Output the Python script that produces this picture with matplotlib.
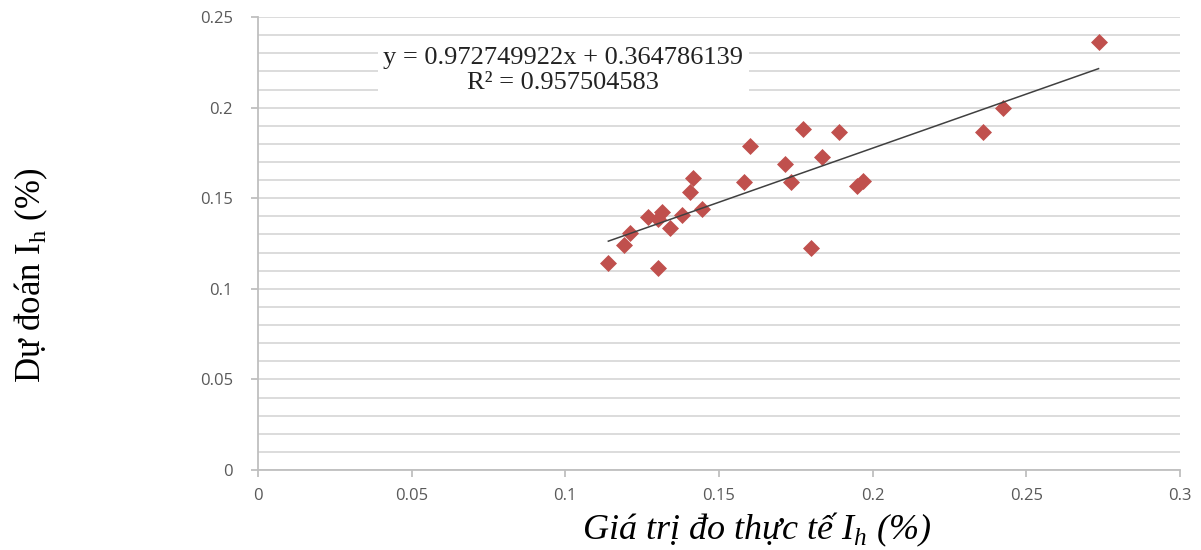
import numpy as np
import matplotlib
matplotlib.use("Agg")
import matplotlib.pyplot as plt

# measured vs predicted I_h (%)
measured = [0.114, 0.119, 0.121, 0.127, 0.130, 0.1315, 0.130, 0.134, 0.138, 0.1445,
            0.1405, 0.1415, 0.158, 0.160, 0.1715, 0.1735, 0.1775, 0.180, 0.1835, 0.189,
            0.195, 0.197, 0.236, 0.2425, 0.2735]
predicted = [0.114, 0.124, 0.131, 0.1395, 0.1385, 0.1425, 0.1115, 0.1335, 0.141, 0.144,
             0.1535, 0.161, 0.159, 0.179, 0.169, 0.159, 0.188, 0.1225, 0.1725, 0.1865,
             0.157, 0.1595, 0.1865, 0.200, 0.236]
x_ticks = [0, 0.05, 0.1, 0.15, 0.2, 0.25, 0.3]
x_labels = ["0", "0.05", "0.1", "0.15", "0.2", "0.25", "0.3"]
y_ticks = [0, 0.05, 0.1, 0.15, 0.2, 0.25]
y_labels = ["0", "0.05", "0.1", "0.15", "0.2", "0.25"]
eq_text = "y = 0.972749922x + 0.364786139\nR² = 0.957504583"

fig = plt.figure(figsize=(12.01, 5.5), dpi=100)
ax = fig.add_axes([0.2148, 0.1455, 0.7677, 0.8235])

ax.set_xlim(0, 0.3)
ax.set_ylim(0, 0.25)
ax.set_xticks(x_ticks, x_labels, family="Open Sans")
ax.set_yticks(y_ticks, y_labels, family="Open Sans")
ax.set_yticks(np.arange(0, 0.2501, 0.01), minor=True)
ax.grid(True, axis="y", which="both", color="#d9d9d9", linewidth=1.3, zorder=0)
ax.set_axisbelow(True)

for side in ("top", "right"):
    ax.spines[side].set_visible(False)
for side in ("left", "bottom"):
    ax.spines[side].set_color("#bfbfbf")
    ax.spines[side].set_linewidth(1.3)

ax.tick_params(which="major", length=5, color="#bfbfbf", width=1.3,
               labelsize=12, labelcolor="#595959")
ax.tick_params(axis="x", pad=8)
ax.tick_params(axis="y", pad=13)
ax.tick_params(which="minor", length=0)

ax.scatter(measured, predicted, marker="D", s=75, color="#c0504d", zorder=3, linewidths=0)

# linear trendline over the data range
coef = np.polyfit(measured, predicted, 1)
xs = np.array([min(measured), max(measured)])
ax.plot(xs, np.polyval(coef, xs), color="#404040", linewidth=1.1, zorder=4)

ax.text(0.0993, 0.2205, eq_text, ha="center", va="center", linespacing=1.2,
        family="Liberation Serif", fontsize=19, color="#222222",
        bbox=dict(facecolor="white", edgecolor="none", pad=4), zorder=5)

fig.text(0.026, 0.5, "Dự đoán I$_\\mathregular{h}$ (%)", rotation=90, ha="center", va="center",
         family="Liberation Serif", fontsize=25)
fig.text(0.63, 0.036, "Giá trị đo thực tế I$_\\mathregular{h}$ (%)", ha="center", va="center",
         family="Liberation Serif", style="italic", fontsize=26)

fig.savefig("out.png", dpi=100)
